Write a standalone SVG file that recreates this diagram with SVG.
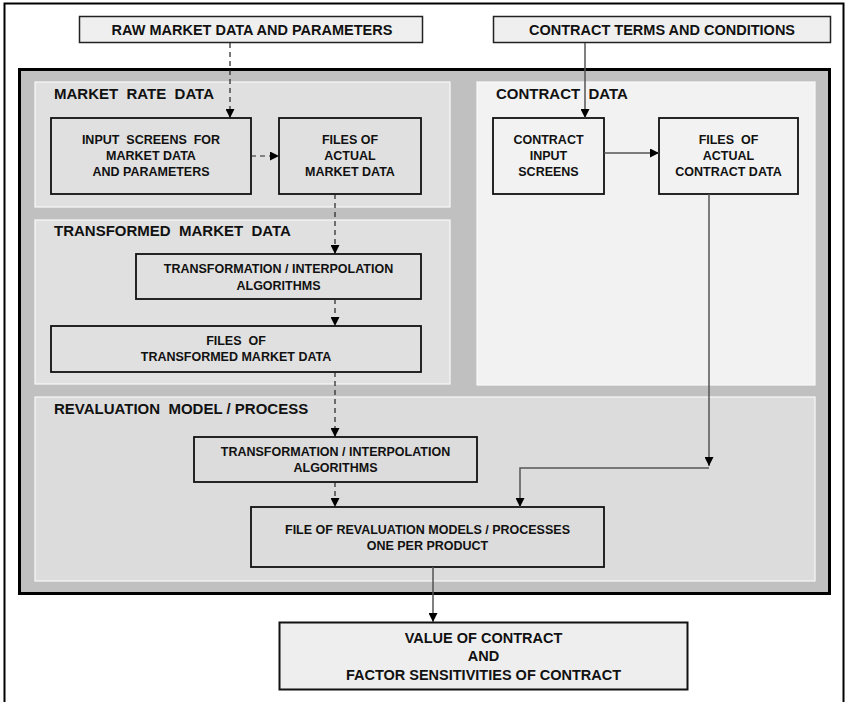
<svg xmlns="http://www.w3.org/2000/svg" width="846" height="702" viewBox="0 0 846 702">
<defs>
<marker id="ah" viewBox="0 0 10 10" refX="10" refY="5" markerWidth="9" markerHeight="9" markerUnits="userSpaceOnUse" orient="auto">
<path d="M0,0 L10,5 L0,10 Z" fill="#000"/>
</marker>
</defs>
<style>
text{font-family:"Liberation Sans",Arial,sans-serif;font-weight:bold;fill:#111;white-space:pre;}
.lbl{font-size:15px;}
.t{font-size:12.5px;text-anchor:middle;}
.tl{font-size:14.5px;text-anchor:middle;}
.box{fill:none;stroke:#111;stroke-width:1.8;}
.ext{fill:#efefef;stroke:#222;stroke-width:1.5;}
.panel{stroke:#f8f8f8;stroke-width:1.2;}
.dash{fill:none;stroke:#222;stroke-width:1.2;stroke-dasharray:5,4;}
.solid{fill:none;stroke:#555;stroke-width:1.5;}
</style>
<rect width="846" height="702" fill="#fff"/>
<rect x="4.5" y="3.5" width="839" height="710" fill="none" stroke="#000" stroke-width="2"/>
<g id="frame">
<rect x="19.5" y="69.5" width="810" height="524" fill="#c0c0c0" stroke="#000" stroke-width="3"/>
</g>
<g id="panel-market-rate">
<rect class="panel" x="35" y="82" width="415" height="125" fill="#e0e0e0"/>
<text class="lbl" x="54" y="99" xml:space="preserve">MARKET  RATE  DATA</text>
</g>
<g id="panel-contract">
<rect class="panel" x="477" y="82" width="338" height="303" fill="#f2f2f2"/>
<text class="lbl" x="496" y="99" xml:space="preserve">CONTRACT  DATA</text>
</g>
<g id="panel-transformed">
<rect class="panel" x="35" y="220" width="415" height="164" fill="#e0e0e0"/>
<text class="lbl" x="54" y="236" xml:space="preserve">TRANSFORMED  MARKET  DATA</text>
</g>
<g id="panel-revaluation">
<rect class="panel" x="35" y="397" width="780" height="184" fill="#dcdcdc"/>
<text class="lbl" x="54" y="414" xml:space="preserve">REVALUATION  MODEL / PROCESS</text>
</g>
<g id="raw-market">
<rect class="ext" x="79.5" y="16.5" width="343" height="26"/>
<text class="tl" x="252" y="35">RAW MARKET DATA AND PARAMETERS</text>
</g>
<g id="contract-terms">
<rect class="ext" x="493.5" y="16.5" width="337" height="26"/>
<text class="tl" x="662" y="35">CONTRACT TERMS AND CONDITIONS</text>
</g>
<g id="input-screens">
<rect class="box" x="51" y="118" width="200" height="76"/>
<text class="t" x="151" y="144" xml:space="preserve">INPUT  SCREENS  FOR</text>
<text class="t" x="151" y="160">MARKET DATA</text>
<text class="t" x="151" y="176">AND PARAMETERS</text>
</g>
<g id="files-market">
<rect class="box" x="279" y="118" width="142" height="76"/>
<text class="t" x="350" y="144">FILES OF</text>
<text class="t" x="350" y="160">ACTUAL</text>
<text class="t" x="350" y="176">MARKET DATA</text>
</g>
<g id="contract-input">
<rect class="box" x="493" y="118" width="111" height="76"/>
<text class="t" x="548.5" y="144">CONTRACT</text>
<text class="t" x="548.5" y="160">INPUT</text>
<text class="t" x="548.5" y="176">SCREENS</text>
</g>
<g id="files-contract">
<rect class="box" x="659" y="118" width="139" height="76"/>
<text class="t" x="728.5" y="144" xml:space="preserve">FILES  OF</text>
<text class="t" x="728.5" y="160">ACTUAL</text>
<text class="t" x="728.5" y="176">CONTRACT DATA</text>
</g>
<g id="transform-1">
<rect class="box" x="136" y="254" width="285" height="45"/>
<text class="t" x="278.5" y="273">TRANSFORMATION / INTERPOLATION</text>
<text class="t" x="278.5" y="290">ALGORITHMS</text>
</g>
<g id="files-transformed">
<rect class="box" x="51" y="326" width="370" height="46"/>
<text class="t" x="236" y="345" xml:space="preserve">FILES  OF</text>
<text class="t" x="236" y="361">TRANSFORMED MARKET DATA</text>
</g>
<g id="transform-2">
<rect class="box" x="194" y="437" width="283" height="45"/>
<text class="t" x="335.5" y="456">TRANSFORMATION / INTERPOLATION</text>
<text class="t" x="335.5" y="472">ALGORITHMS</text>
</g>
<g id="revaluation-models">
<rect class="box" x="251" y="507" width="353" height="60"/>
<text class="t" x="427.5" y="534">FILE OF REVALUATION MODELS / PROCESSES</text>
<text class="t" x="427.5" y="550">ONE PER PRODUCT</text>
</g>
<g id="value">
<rect x="279.5" y="622.5" width="408" height="67" fill="#eeeeee" stroke="#111" stroke-width="2"/>
<text class="tl" x="483.5" y="643">VALUE OF CONTRACT</text>
<text class="tl" x="483.5" y="661">AND</text>
<text class="tl" x="483.5" y="680">FACTOR SENSITIVITIES OF CONTRACT</text>
</g>
<g id="connectors">
<path class="dash" d="M230,43 V118" marker-end="url(#ah)"/>
<path class="dash" d="M251,156 H279" marker-end="url(#ah)"/>
<path class="dash" d="M335,194 V254" marker-end="url(#ah)"/>
<path class="dash" d="M335,299 V326" marker-end="url(#ah)"/>
<path class="dash" d="M335,372 V437" marker-end="url(#ah)"/>
<path class="dash" d="M335,482 V507" marker-end="url(#ah)"/>
<path class="solid" d="M585,43 V118" marker-end="url(#ah)"/>
<path class="solid" d="M604,153 H659" marker-end="url(#ah)"/>
<path class="solid" d="M709,194 V466" marker-end="url(#ah)"/>
<path class="solid" d="M709,468 H520 V507" marker-end="url(#ah)"/>
<path class="solid" d="M433,567 V622" marker-end="url(#ah)"/>
</g>
</svg>
